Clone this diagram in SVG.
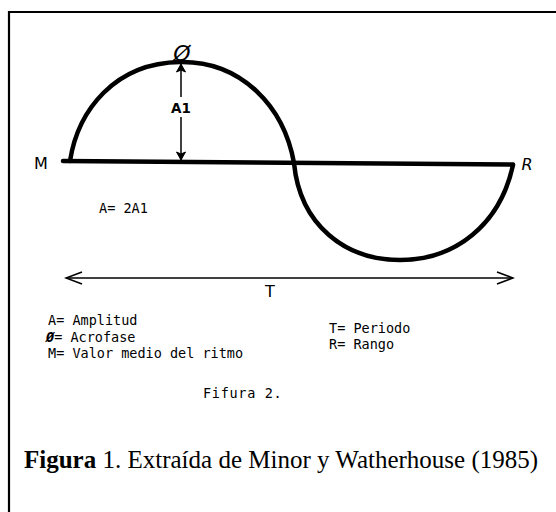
<svg xmlns="http://www.w3.org/2000/svg" width="556" height="512" viewBox="0 0 556 512">
<style>
.hand{font-family:"DejaVu Sans","Liberation Sans",sans-serif;fill:#000}
.mono{font-family:"DejaVu Sans Mono","Liberation Mono",monospace;font-size:13.5px;fill:#000}
.cap{font-family:"Liberation Serif","Times New Roman",serif;font-size:25px;fill:#000}
.thick{fill:none;stroke:#000;stroke-width:4.5;stroke-linecap:round;stroke-linejoin:miter}
.thin{fill:none;stroke:#000;stroke-width:1.5}
.frame{fill:none;stroke:#000;stroke-width:2.2}
</style>
<defs>
<marker id="headS" markerUnits="userSpaceOnUse" viewBox="-10 -6 12 12" refX="0" refY="0" markerWidth="12" markerHeight="12" orient="auto">
<path d="M-8,-4.5 L0,0 L-8,4.5 L-6,0 Z" fill="#000" stroke="#000" stroke-width="1"/>
</marker>
<marker id="headT" markerUnits="userSpaceOnUse" viewBox="-18 -8 20 16" refX="0" refY="0" markerWidth="20" markerHeight="16" orient="auto-start-reverse">
<path d="M-16,-6 L0,0 L-16,6" fill="none" stroke="#000" stroke-width="1.6"/>
</marker>
</defs>
<rect width="556" height="512" fill="#fff"/>
<path class="frame" d="M9,520 L9,12 L560,12"/>

<g id="curve">
<path class="thick" d="M70,161 C78,110 115,63 180,62 C242,61 284,107 294,163 C300,225 345,260 400,260 C455,260 500,225 513,165"/>
</g>
<g id="connectors">
<path class="thick" d="M63,161 L513,164.5" stroke-width="4"/>
<path class="thin" d="M181,97 L181,64" marker-end="url(#headS)"/>
<path class="thin" d="M181,117 L181,160" marker-end="url(#headS)"/>
<path class="thin" d="M66,278 L513,278" marker-start="url(#headT)" marker-end="url(#headT)"/>
</g>
<g id="phi"><text class="hand" x="182" y="61" font-size="22" text-anchor="middle" font-style="italic">Ø</text></g>
<g id="A1"><text class="hand" x="181" y="113" font-size="13.5" font-weight="bold" text-anchor="middle">A1</text></g>
<g id="M"><text class="hand" x="41" y="169" font-size="16" text-anchor="middle">M</text></g>
<g id="R"><text class="hand" x="527" y="170" font-size="16" text-anchor="middle" font-style="italic">R</text></g>
<g id="T"><text class="hand" x="270" y="297" font-size="16" text-anchor="middle">T</text></g>
<g id="formula"><text class="mono" x="99" y="213">A= 2A1</text></g>
<g id="legend">
<text class="mono" x="48" y="325">A= Amplitud</text>
<text class="mono" x="46" y="342"><tspan font-weight="bold" font-style="italic">Ø</tspan>= Acrofase</text>
<text class="mono" x="48" y="358">M= Valor medio del ritmo</text>
<text class="mono" x="329" y="333">T= Periodo</text>
<text class="mono" x="329" y="349">R= Rango</text>
<text class="mono" x="203" y="398" letter-spacing="0.7">Fifura 2.</text>
</g>
<g id="caption"><text class="cap" x="24" y="468"><tspan font-weight="bold">Figura</tspan> 1. Extraída de Minor y Watherhouse (1985)</text></g>
</svg>
